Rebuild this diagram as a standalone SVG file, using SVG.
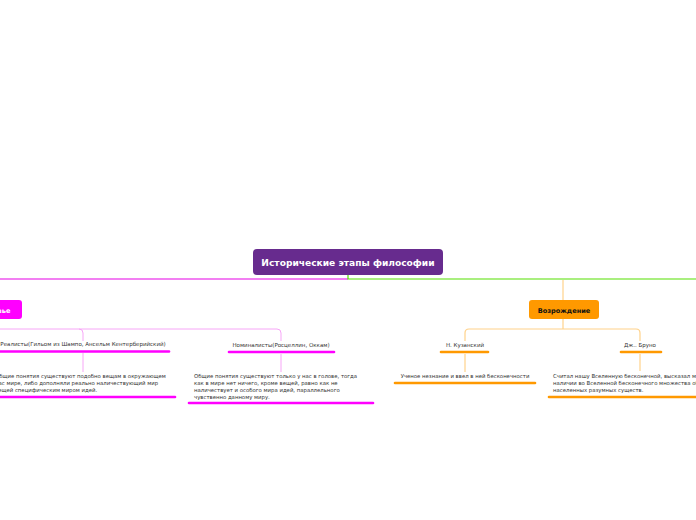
<svg xmlns="http://www.w3.org/2000/svg" width="696" height="520" viewBox="0 0 696 520">
<style>
.t{font-family:"DejaVu Sans","Verdana",sans-serif;font-size:5.5px;fill:#333}
.s{font-size:5.35px}
.c{text-anchor:middle}
.b{font-family:"DejaVu Sans","Verdana",sans-serif;font-weight:bold}
.ul{stroke-width:2.6;stroke-linecap:round;fill:none}
.m{stroke:#f0f}
.o{stroke:#f90}
.lm{stroke:#f7a6f7;stroke-width:1;fill:none}
.lo{stroke:#ffd28a;stroke-width:1.2;fill:none}
</style>
<rect width="696" height="520" fill="#fff"/>
<g id="connectors">
<line x1="0" y1="279" x2="348" y2="279" stroke="#e600e6" stroke-width="1.2"/>
<path d="M348 275 V279 H696" stroke="#55e000" stroke-width="1.2" fill="none"/>
<path class="lm" d="M0 329 H277 Q281 329 281 333 V341"/>
<path class="lm" d="M79 329 Q83 329 83 333 V341"/>
<line class="lm" x1="83" y1="353" x2="83" y2="372"/>
<line class="lm" x1="281" y1="354" x2="281" y2="372"/>
<line class="lo" x1="563" y1="280" x2="563" y2="300"/>
<line class="lo" x1="563" y1="319" x2="563" y2="329"/>
<path class="lo" d="M465 341 V333 Q465 329 469 329 H636 Q640 329 640 333 V341"/>
<line class="lo" x1="465" y1="354" x2="465" y2="372"/>
<line class="lo" x1="640" y1="354" x2="640" y2="371"/>
</g>
<g id="root">
<rect x="253" y="249" width="190" height="26" rx="4" fill="#672b8e"/>
<text x="348" y="266" class="b c" font-size="9.1" fill="#fff">Исторические этапы философии</text>
</g>
<g id="middle-ages">
<rect x="-60" y="300" width="82" height="19" rx="3" fill="#f0f"/>
<text x="-19" y="312.5" class="b c" font-size="6.6" fill="#fff">Средневековье</text>
</g>
<g id="realists">
<text x="83" y="346" class="t c">Реалисты(Гильом из Шампо, Ансельм Кентерберийский)</text>
<line class="ul m" x1="-2" y1="351.5" x2="169" y2="351.5"/>
</g>
<g id="realists-text">
<text class="t s"><tspan x="-5" y="378">Общие понятия существуют подобно вещам в окружающем</tspan><tspan x="-5" y="385">нас мире, либо дополняли реально наличествующий мир</tspan><tspan x="-5" y="392">вещей специфическим миром идей.</tspan></text>
<line class="ul m" x1="-2" y1="397" x2="175" y2="397"/>
</g>
<g id="nominalists">
<text x="281" y="347" class="t c">Номиналисты(Росцеллин, Оккам)</text>
<line class="ul m" x1="229" y1="352" x2="334" y2="352"/>
</g>
<g id="nominalists-text">
<text class="t s"><tspan x="194" y="378">Общие понятия существуют только у нас в голове, тогда</tspan><tspan x="194" y="385">как в мире нет ничего, кроме вещей, равно как не</tspan><tspan x="194" y="392">наличествует и особого мира идей, параллельного</tspan><tspan x="194" y="399">чувственно данному миру.</tspan></text>
<line class="ul m" x1="189" y1="403" x2="373" y2="403"/>
</g>
<g id="renaissance">
<rect x="529" y="300" width="70" height="19" rx="3" fill="#f90"/>
<text x="564" y="312.5" class="b c" font-size="6.6" fill="#111">Возрождение</text>
</g>
<g id="kuzansky">
<text x="465" y="347" class="t c">Н. Кузанский</text>
<line class="ul o" x1="441" y1="352" x2="488" y2="352"/>
</g>
<g id="kuzansky-text">
<text x="465" y="378" class="t s c">Ученое незнание и ввел в ней бесконечности</text>
<line class="ul o" x1="395" y1="383" x2="535" y2="383"/>
</g>
<g id="bruno">
<text x="640" y="347" class="t c">Дж.. Бруно</text>
<line class="ul o" x1="621" y1="352" x2="661" y2="352"/>
</g>
<g id="bruno-text">
<text class="t s"><tspan x="553" y="378">Считал нашу Вселенную бесконечной, высказал мысль о</tspan><tspan x="553" y="385">наличии во Вселенной бесконечного множества обитаемых</tspan><tspan x="553" y="392">населенных разумных существ.</tspan></text>
<line class="ul o" x1="549" y1="397" x2="700" y2="397"/>
</g>
</svg>
